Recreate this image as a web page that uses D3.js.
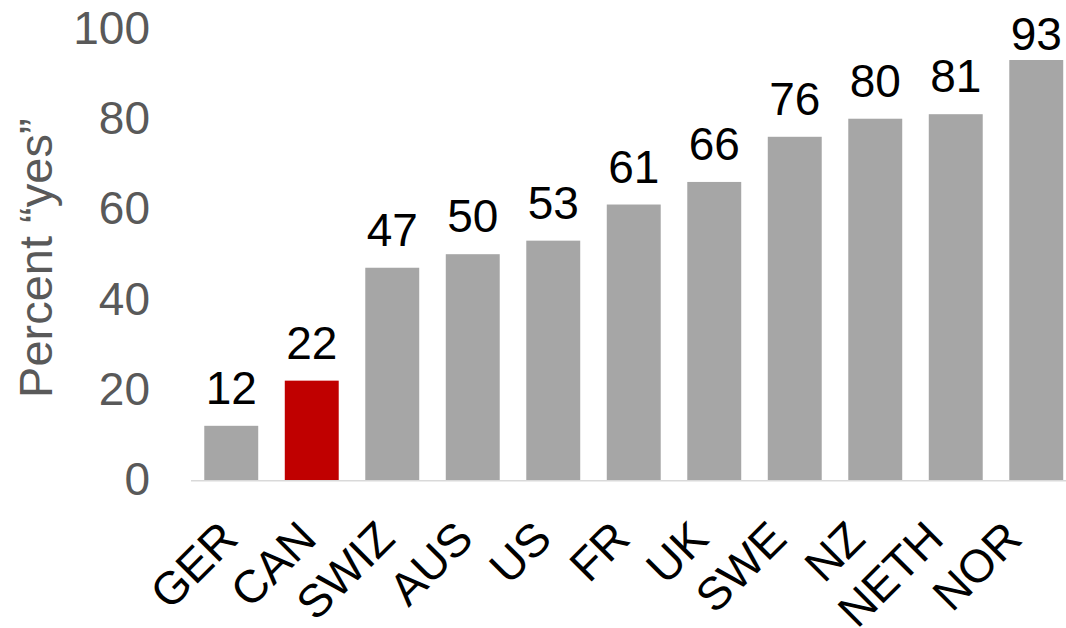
<!DOCTYPE html>
<html>
<head>
<meta charset="utf-8">
<script src="https://cdn.jsdelivr.net/npm/d3@7"></script>
<style>
  html, body { margin: 0; padding: 0; background: #fff; }
  svg { display: block; }
  text { font-family: "Liberation Sans", Arial, sans-serif; }
</style>
</head>
<body>
<svg id="chart" width="1066" height="628"></svg>
<script>
const categories = ["GER", "CAN", "SWIZ", "AUS", "US", "FR", "UK", "SWE", "NZ", "NETH", "NOR"];
const values = [12, 22, 47, 50, 53, 61, 66, 76, 80, 81, 93];
const highlight = ["CAN"];
const yTicks = [0, 20, 40, 60, 80, 100];
const yTitle = "Percent \u201Cyes\u201D";

const svg = d3.select("#chart");
const W = 1066, H = 628;

const plotLeft = 191, plotRight = 1076.5, plotBottom = 480, plotTop = 28.4;

const x = d3.scaleBand().domain(categories).range([plotLeft, plotRight])
  .paddingInner(0.33).paddingOuter(0.165);
const y = d3.scaleLinear().domain([0, 100]).range([plotBottom, plotTop]);
const labelX = d3.scalePoint().domain(categories)
  .range([x(categories[0]) + x.bandwidth() / 2 + 9, x(categories[categories.length - 1]) + x.bandwidth() / 2 - 12]);

const data = categories.map((c, i) => ({ c, v: values[i] }));

// bars
svg.append("g").selectAll("rect").data(data).join("rect")
  .attr("x", d => x(d.c))
  .attr("y", d => y(d.v))
  .attr("width", x.bandwidth())
  .attr("height", d => y(0) - y(d.v))
  .attr("fill", d => highlight.includes(d.c) ? "#C00000" : "#A6A6A6");

// baseline axis line
svg.append("line")
  .attr("x1", plotLeft).attr("x2", plotRight)
  .attr("y1", y(0) + 0.75).attr("y2", y(0) + 0.75)
  .attr("stroke", "#D9D9D9").attr("stroke-width", 1.5);

// y axis ticks
const yAxis = d3.axisLeft(y).tickValues(yTicks).tickSize(0).tickPadding(41);
const gy = svg.append("g").attr("transform", `translate(${plotLeft},0)`).call(yAxis);
gy.select(".domain").remove();
gy.selectAll("text")
  .attr("font-size", 46)
  .attr("fill", "#595959")
  .attr("font-family", "'Liberation Sans', Arial, sans-serif");

// y title
svg.append("text")
  .attr("transform", `translate(52, ${(plotTop + plotBottom) / 2 + 4}) rotate(-90)`)
  .attr("text-anchor", "middle")
  .attr("font-size", 47)
  .attr("fill", "#595959")
  .text(yTitle);

// value labels
svg.append("g").selectAll("text").data(data).join("text")
  .attr("x", d => x(d.c) + x.bandwidth() / 2)
  .attr("y", d => Math.max(y(d.v) - 22, 50))
  .attr("text-anchor", "middle")
  .attr("font-size", 46)
  .attr("fill", "#000")
  .text(d => d.v);

// category labels
svg.append("g").selectAll("text").data(data).join("text")
  .attr("transform", d => `translate(${labelX(d.c)}, 541) rotate(-45)`)
  .attr("text-anchor", "end")
  .attr("font-size", 46)
  .attr("fill", "#000")
  .text(d => d.c);
</script>
</body>
</html>
